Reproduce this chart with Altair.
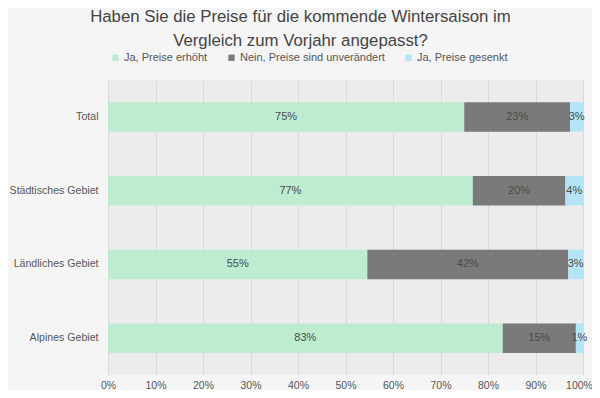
import altair as alt
import pandas as pd

categories = ["Total", "Städtisches Gebiet", "Ländliches Gebiet", "Alpines Gebiet"]
series = ["Ja, Preise erhöht", "Nein, Preise sind unverändert", "Ja, Preise gesenkt"]
erhoeht = [75.0, 76.8, 54.6, 83.1]
unveraendert = [22.3, 19.5, 42.3, 15.4]
gesenkt = [2.7, 3.7, 3.1, 1.5]
label_erhoeht = ["75%", "77%", "55%", "83%"]
label_unveraendert = ["23%", "20%", "42%", "15%"]
label_gesenkt = ["3%", "4%", "3%", "1%"]
colors = ["#bdecd1", "#7a7a7a", "#b5e4f6"]
x_ticks = [0, 10, 20, 30, 40, 50, 60, 70, 80, 90, 100]

rows = []
for s_i, (vals, labs) in enumerate(
    [(erhoeht, label_erhoeht), (unveraendert, label_unveraendert), (gesenkt, label_gesenkt)]
):
    for c, v, l in zip(categories, vals, labs):
        rows.append({"cat": c, "series": series[s_i], "order": s_i, "value": v, "label": l})
df = pd.DataFrame(rows)

FONT = "Liberation Sans"

base = alt.Chart(df).transform_stack(
    stack="value", groupby=["cat"], as_=["start", "end"], sort=[alt.SortField("order")]
).transform_calculate(mid="(datum.start + datum.end) / 2")

y_enc = alt.Y(
    "cat:N",
    sort=categories,
    scale=alt.Scale(paddingInner=0.6, paddingOuter=0.3),
    axis=alt.Axis(
        title=None, domain=False, ticks=False, labelPadding=10,
        labelColor="#555555", labelFontSize=10.6, labelFont=FONT, grid=False,
    ),
)

bars = base.mark_bar().encode(
    x=alt.X(
        "start:Q",
        scale=alt.Scale(domain=[0, 100], nice=False),
        axis=alt.Axis(
            values=x_ticks, labelExpr="datum.value + '%'", grid=True,
            gridColor="#d9d9d9", gridWidth=1, domain=False, ticks=False,
            labelPadding=5, labelColor="#555555", labelFontSize=10.5,
            labelFont=FONT, title=None, labelFlush=False,
            labelOffset={"condition": {"test": "datum.value == 100", "value": -4}, "value": 0},
        ),
    ),
    x2="end:Q",
    y=y_enc,
    color=alt.Color(
        "series:N",
        scale=alt.Scale(domain=series, range=colors),
        legend=alt.Legend(
            orient="none", legendX=2, legendY=-28, direction="horizontal",
            title=None, symbolType="square", symbolSize=40, labelFontSize=11,
            labelColor="#555555", labelFont=FONT, columnPadding=18,
            labelOffset=3, symbolStrokeWidth=0,
        ),
    ),
    order=alt.Order("order:Q"),
)

text = base.mark_text(fontSize=11, color="#4a4a4a", font=FONT).encode(
    x=alt.X("mid:Q"),
    y=alt.Y("cat:N", sort=categories),
    text="label:N",
)

chart = (
    alt.layer(bars, text)
    .properties(
        width=475,
        height=295,
        title=alt.TitleParams(
            text=[
                "Haben Sie die Preise für die kommende Wintersaison im",
                "Vergleich zum Vorjahr angepasst?",
            ],
            fontSize=16.8, font=FONT, color="#444444", fontWeight="normal",
            anchor="middle", dx=-45, offset=2, lineHeight=24,
        ),
        autosize=alt.AutoSizeParams(type="none"),
        padding={"left": 100, "top": 72, "right": 9, "bottom": 15},
        background="#f5f5f5",
    )
    .configure_view(fill="#ececec", stroke=None)
)

chart.save("out.html", embed_options={"renderer": "svg", "actions": False})
